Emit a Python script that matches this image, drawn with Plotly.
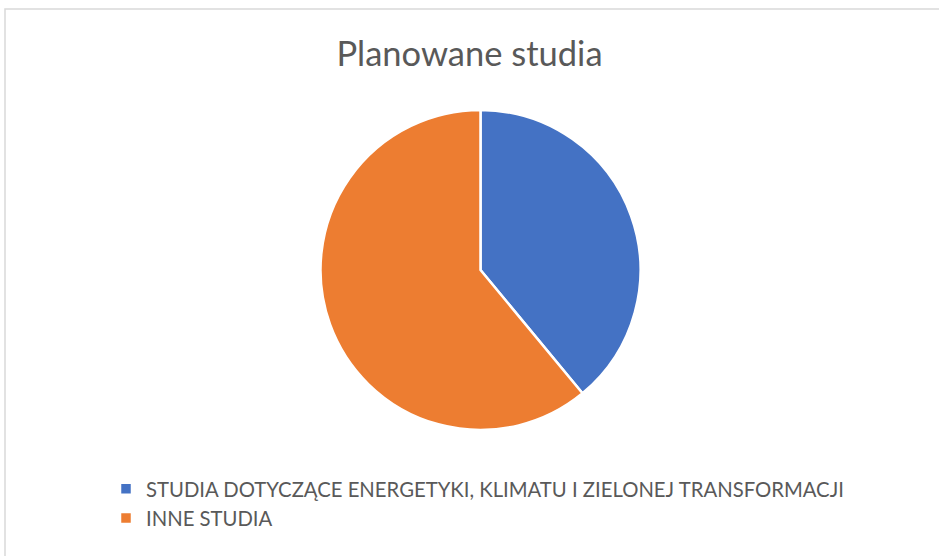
import plotly.graph_objects as go

labels = ["STUDIA DOTYCZĄCE ENERGETYKI, KLIMATU I ZIELONEJ TRANSFORMACJI", "INNE STUDIA"]
values = [39, 61]
colors = ["#4472C4", "#ED7D31"]

W, H = 939, 556
cx, cy, r = 480.5, 270, 160

fig = go.Figure(go.Pie(
    labels=labels, values=values, sort=False, direction="clockwise", rotation=0,
    marker=dict(colors=colors, line=dict(color="white", width=2.5)),
    textinfo="none", hoverinfo="label+percent",
    domain=dict(x=[(cx - r) / W, (cx + r) / W], y=[(H - cy - r) / H, (H - cy + r) / H]),
))

fig.update_layout(
    width=W, height=H,
    margin=dict(l=0, r=0, t=0, b=0),
    paper_bgcolor="white",
    title=dict(text="Planowane studia", x=0.5, xanchor="center", y=1 - 54 / H, yanchor="middle",
               font=dict(family="Lato", size=34.5, color="#595959")),
    legend=dict(x=106 / W, xanchor="left", y=1 - 469 / H, yanchor="top", orientation="v",
                font=dict(family="Lato", size=20.3, color="#595959"), itemwidth=30,
                tracegroupgap=0),
    shapes=[dict(type="rect", xref="paper", yref="paper", x0=5 / W, x1=1.05, y0=-0.05, y1=1 - 9 / H,
                 line=dict(color="#D9D9D9", width=1.5), fillcolor="rgba(0,0,0,0)", layer="below")],
)

fig.write_html("out.html", config={"displayModeBar": False},
               post_script="document.body.style.margin='0';")
